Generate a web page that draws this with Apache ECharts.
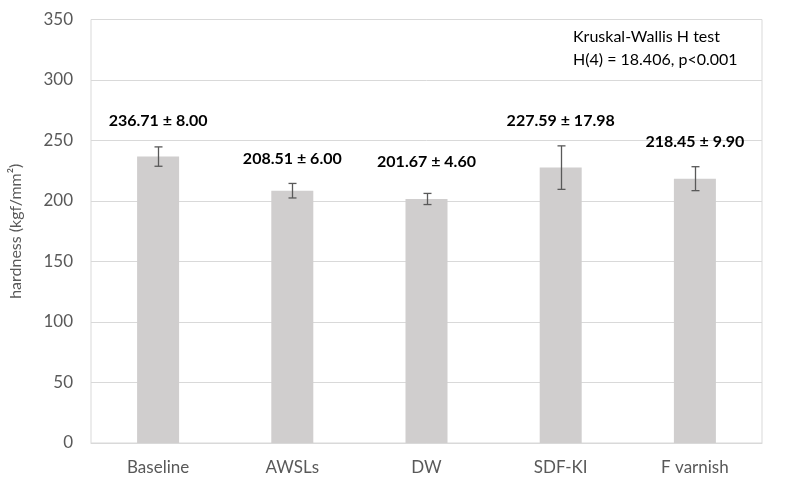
<!DOCTYPE html>
<html>
<head>
<meta charset="utf-8">
<script src="https://cdn.jsdelivr.net/npm/echarts@6/dist/echarts.min.js"></script>
<style>html,body{margin:0;padding:0;background:#fff}#c{width:800px;height:491px}</style>
</head>
<body>
<div id="c"></div>
<script>
var categories = ['Baseline', 'AWSLs', 'DW', 'SDF-KI', 'F varnish'];
var means = [236.71, 208.51, 201.67, 227.59, 218.45];
var sds = [8.00, 6.00, 4.60, 17.98, 9.90];
var yTicks = [0, 50, 100, 150, 200, 250, 300, 350];
var annotation = ['Kruskal-Wallis H test', 'H(4) = 18.406, p<0.001'];

var FONT = 'Lato';
var labelDist = [28, 24, 29, 39, 29];

var chart = echarts.init(document.getElementById('c'), null, {renderer: 'canvas'});
var barData = means.map(function (m, i) {
  return {
    value: m,
    label: {distance: labelDist[i]}
  };
});
var errData = means.map(function (m, i) { return [i, m - sds[i], m + sds[i]]; });

chart.setOption({
  animation: false,
  backgroundColor: '#fff',
  textStyle: {fontFamily: FONT},
  grid: {left: 88, right: 38, top: 19.5, bottom: 48, show: true, borderColor: '#d9d9d9', borderWidth: 1},
  xAxis: {
    type: 'category',
    data: categories,
    axisLine: {show: true, lineStyle: {color: '#d9d9d9', width: 1}},
    axisTick: {show: false},
    axisLabel: {color: '#595959', fontSize: 17, fontFamily: FONT, margin: 16}
  },
  yAxis: {
    type: 'value',
    min: yTicks[0],
    max: yTicks[yTicks.length - 1],
    interval: 50,
    name: 'hardness (kgf/mm\u00b2)',
    nameLocation: 'middle',
    nameGap: 67,
    nameTextStyle: {color: '#595959', fontSize: 16, fontFamily: FONT},
    axisLine: {show: false},
    axisTick: {show: false},
    axisLabel: {color: '#595959', fontSize: 17, fontFamily: FONT, margin: 18},
    splitLine: {lineStyle: {color: '#d9d9d9', width: 1}}
  },
  series: [
    {
      type: 'bar',
      data: barData,
      barWidth: 42,
      itemStyle: {color: '#d0cece'},
      label: {
        show: true,
        position: 'top',
        fontFamily: FONT,
        fontSize: 16,
        fontWeight: 'bold',
        color: '#000',
        formatter: function (p) {
          return means[p.dataIndex].toFixed(2) + ' \u00b1 ' + sds[p.dataIndex].toFixed(2);
        }
      },
      z: 2
    },
    {
      type: 'custom',
      data: errData,
      z: 3,
      renderItem: function (params, api) {
        var lo = api.coord([api.value(0), api.value(1)]);
        var hi = api.coord([api.value(0), api.value(2)]);
        var x = Math.round(lo[0]) + 0.5;
        var hw = 4;
        var style = {stroke: '#595959', lineWidth: 1.3};
        return {
          type: 'group',
          children: [
            {type: 'line', shape: {x1: x, y1: hi[1], x2: x, y2: lo[1]}, style: style},
            {type: 'line', shape: {x1: x - hw, y1: hi[1], x2: x + hw, y2: hi[1]}, style: style},
            {type: 'line', shape: {x1: x - hw, y1: lo[1], x2: x + hw, y2: lo[1]}, style: style}
          ]
        };
      }
    }
  ],
  graphic: [
    {
      type: 'text',
      left: 573,
      top: 25,
      style: {
        text: annotation.join('\n'),
        font: '16px ' + FONT,
        fill: '#000',
        lineHeight: 23
      }
    }
  ]
});
</script>
</body>
</html>
